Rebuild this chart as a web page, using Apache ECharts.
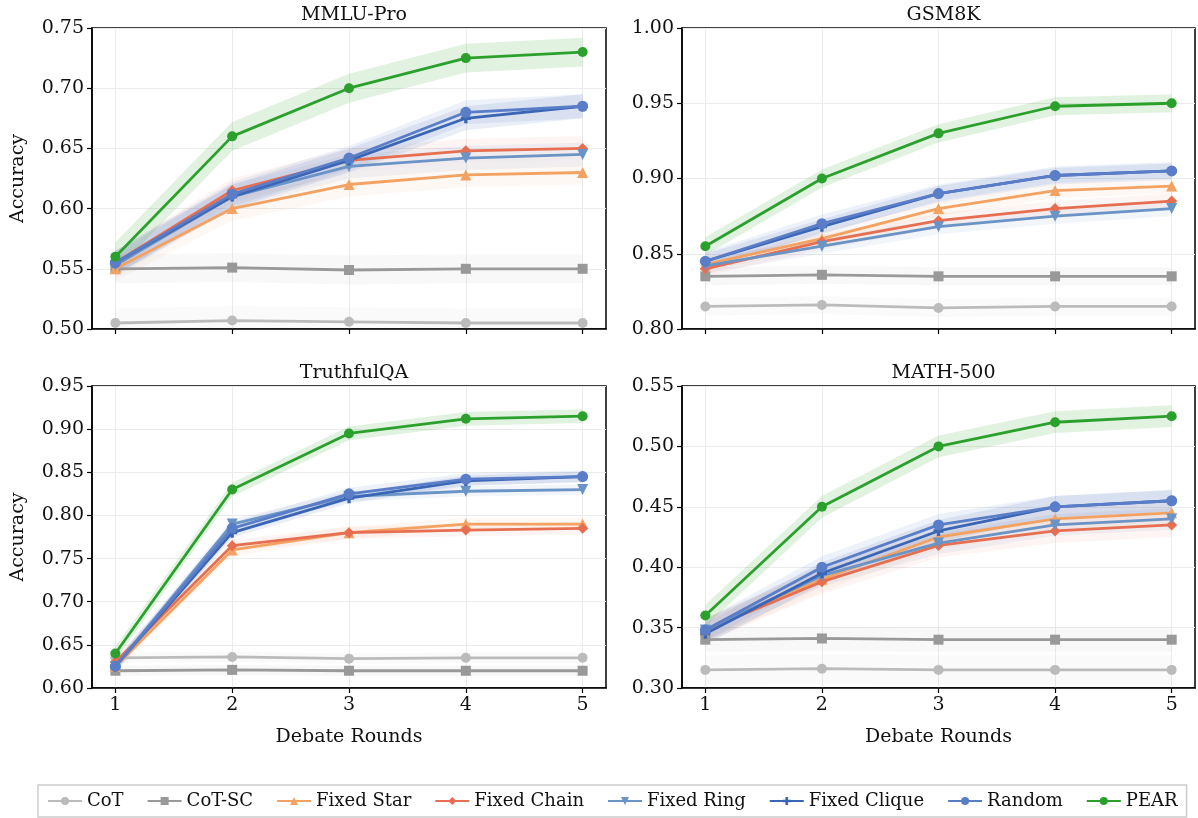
<!DOCTYPE html>
<html>
<head>
<meta charset="utf-8">
<script src="https://cdn.jsdelivr.net/npm/echarts@6/dist/echarts.min.js"></script>
<style>
  html, body { margin: 0; padding: 0; background: #fff; }
  #main { width: 1198px; height: 818px; }
</style>
</head>
<body>
<div id="main"></div>
<script>
var rounds = [1, 2, 3, 4, 5];
var methods = ['CoT', 'CoT-SC', 'Fixed Star', 'Fixed Chain', 'Fixed Ring', 'Fixed Clique', 'Random', 'PEAR'];
var datasets = ['MMLU-Pro', 'GSM8K', 'TruthfulQA', 'MATH-500'];

// accuracy per method (same order as methods), one list per dataset
var mmluPro = [
  [0.505, 0.507, 0.506, 0.505, 0.505],
  [0.550, 0.551, 0.549, 0.550, 0.550],
  [0.550, 0.600, 0.620, 0.628, 0.630],
  [0.555, 0.615, 0.640, 0.648, 0.650],
  [0.553, 0.610, 0.635, 0.642, 0.645],
  [0.555, 0.610, 0.640, 0.675, 0.685],
  [0.555, 0.612, 0.642, 0.680, 0.685],
  [0.560, 0.660, 0.700, 0.725, 0.730]
];
var gsm8k = [
  [0.815, 0.816, 0.814, 0.815, 0.815],
  [0.835, 0.836, 0.835, 0.835, 0.835],
  [0.843, 0.860, 0.880, 0.892, 0.895],
  [0.840, 0.858, 0.872, 0.880, 0.885],
  [0.842, 0.855, 0.868, 0.875, 0.880],
  [0.845, 0.868, 0.890, 0.902, 0.905],
  [0.845, 0.870, 0.890, 0.902, 0.905],
  [0.855, 0.900, 0.930, 0.948, 0.950]
];
var truthfulQA = [
  [0.635, 0.636, 0.634, 0.635, 0.635],
  [0.620, 0.621, 0.620, 0.620, 0.620],
  [0.625, 0.760, 0.780, 0.790, 0.790],
  [0.630, 0.765, 0.780, 0.783, 0.785],
  [0.625, 0.790, 0.822, 0.828, 0.830],
  [0.625, 0.780, 0.820, 0.840, 0.845],
  [0.625, 0.785, 0.825, 0.842, 0.845],
  [0.640, 0.830, 0.895, 0.912, 0.915]
];
var math500 = [
  [0.315, 0.316, 0.315, 0.315, 0.315],
  [0.340, 0.341, 0.340, 0.340, 0.340],
  [0.348, 0.390, 0.425, 0.440, 0.445],
  [0.348, 0.388, 0.418, 0.430, 0.435],
  [0.348, 0.393, 0.420, 0.435, 0.440],
  [0.345, 0.395, 0.430, 0.450, 0.455],
  [0.348, 0.400, 0.435, 0.450, 0.455],
  [0.360, 0.450, 0.500, 0.520, 0.525]
];

// half width of the shaded band per method
var mmluBand = [0.012, 0.012, 0.010, 0.010, 0.010, 0.010, 0.010, 0.012];
var gsmBand = [0.006, 0.006, 0.005, 0.005, 0.005, 0.005, 0.006, 0.006];
var truthBand = [0.006, 0.006, 0.007, 0.007, 0.006, 0.006, 0.007, 0.008];
var mathBand = [0.012, 0.010, 0.010, 0.010, 0.009, 0.009, 0.009, 0.009];

var yMins = [0.50, 0.80, 0.60, 0.30];
var yMaxs = [0.75, 1.00, 0.95, 0.55];

var panelData = [mmluPro, gsm8k, truthfulQA, math500];
var panelBand = [mmluBand, gsmBand, truthBand, mathBand];

var colors = ['#bbbbbb', '#999999', '#f4a261', '#e76f51', '#6a93c6', '#3b66b5', '#5a7dc8', '#2ca02c'];
var plusPath = 'path://M2,0H4V2H6V4H4V6H2V4H0V2H2Z';
var symbols = ['circle', 'rect', 'triangle', 'diamond', 'triangle', plusPath, 'circle', 'circle'];
var symbolRot = [0, 0, 0, 0, 180, 0, 0, 0];
var symbolSizes = [10, 10, 11, 11, 11, 10, 11, 10];
var bandAlpha = [0.07, 0.07, 0.07, 0.07, 0.09, 0.11, 0.11, 0.14];

var FONT = 'DejaVu Serif';
var grids = [
  { left: 92, top: 28, width: 514, height: 301 },
  { left: 682, top: 28, width: 513, height: 301 },
  { left: 92, top: 386, width: 514, height: 302 },
  { left: 682, top: 386, width: 513, height: 302 }
];

function hexA(hex, a) {
  var r = parseInt(hex.slice(1, 3), 16), g = parseInt(hex.slice(3, 5), 16), b = parseInt(hex.slice(5, 7), 16);
  return 'rgba(' + r + ',' + g + ',' + b + ',' + a + ')';
}

var option = {
  backgroundColor: '#fff',
  animation: false,
  title: [],
  grid: [],
  xAxis: [],
  yAxis: [],
  legend: {
    data: methods,
    left: 38,
    bottom: 1,
    borderColor: '#cccccc',
    borderWidth: 1.5,
    borderRadius: 0,
    padding: [7, 9, 7, 9],
    itemGap: 23,
    itemWidth: 34,
    itemHeight: 10,
    textStyle: { fontFamily: FONT, fontSize: 18, color: '#111' }
  },
  series: []
};

datasets.forEach(function (name, p) {
  var g = grids[p];
  option.grid.push({
    left: g.left, top: g.top, width: g.width, height: g.height,
    show: true, borderColor: '#000', borderWidth: 1.5, containLabel: false
  });
  option.title.push({
    text: name,
    left: g.left + g.width / 2,
    top: g.top - 27,
    textAlign: 'center',
    textStyle: { fontFamily: FONT, fontSize: 19, fontWeight: 'normal', color: '#111' }
  });
  var bottomRow = p >= 2;
  option.xAxis.push({
    type: 'value', gridIndex: p, min: 0.8, max: 5.2,
    name: bottomRow ? 'Debate Rounds' : '',
    nameLocation: 'middle', nameGap: 40,
    nameTextStyle: { fontFamily: FONT, fontSize: 19, color: '#111' },
    axisLine: { show: true, onZero: false, lineStyle: { color: '#000', width: 1.5 } },
    axisTick: { show: true, length: 5, lineStyle: { color: '#000', width: 1.2 }, customValues: rounds },
    axisLabel: { show: bottomRow, customValues: rounds, margin: 8, fontFamily: FONT, fontSize: 19, color: '#111' },
    splitLine: { show: true, lineStyle: { color: '#ebebeb', width: 1 } }
  });
  option.yAxis.push({
    type: 'value', gridIndex: p, min: yMins[p], max: yMaxs[p], interval: 0.05,
    name: (p % 2 === 0) ? 'Accuracy' : '',
    nameLocation: 'middle', nameGap: 64, nameRotate: 90,
    nameTextStyle: { fontFamily: FONT, fontSize: 19, color: '#111' },
    axisLine: { show: true, onZero: false, lineStyle: { color: '#000', width: 1.5 } },
    axisTick: { show: true, length: 5, lineStyle: { color: '#000', width: 1.2 } },
    axisLabel: {
      margin: 8, fontFamily: FONT, fontSize: 19, color: '#111',
      formatter: function (v) { return v.toFixed(2); }
    },
    splitLine: { show: true, lineStyle: { color: '#ebebeb', width: 1 } }
  });

  var vals = panelData[p], band = panelBand[p];
  // shaded bands (mean +/- band) drawn through the axis scales
  methods.forEach(function (m, i) {
    var upper = rounds.map(function (r, k) { return [r, vals[i][k] + band[i]]; });
    var lower = rounds.map(function (r, k) { return [r, vals[i][k] - band[i]]; });
    option.series.push({
      type: 'custom', xAxisIndex: p, yAxisIndex: p, silent: true, z: 1, clip: true,
      data: [[rounds[0], vals[i][0]]],
      renderItem: function (params, api) {
        var pts = upper.map(function (d) { return api.coord(d); })
          .concat(lower.slice().reverse().map(function (d) { return api.coord(d); }));
        return {
          type: 'polygon',
          shape: { points: pts },
          style: { fill: hexA(colors[i], bandAlpha[i]), stroke: null }
        };
      }
    });
  });
  methods.forEach(function (m, i) {
    option.series.push({
      name: m, type: 'line', xAxisIndex: p, yAxisIndex: p,
      data: rounds.map(function (r, k) { return [r, vals[i][k]]; }),
      symbol: symbols[i], symbolSize: symbolSizes[i], symbolRotate: symbolRot[i],
      showAllSymbol: true,
      itemStyle: { color: colors[i] },
      lineStyle: { color: colors[i], width: 2.8 },
      z: 3 + i * 0.1
    });
  });
});

var myChart = echarts.init(document.getElementById('main'), null, { renderer: 'canvas' });
myChart.setOption(option);
</script>
</body>
</html>
